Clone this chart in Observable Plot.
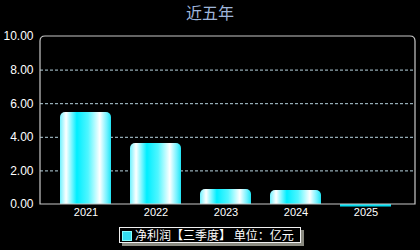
<!DOCTYPE html>
<html>
<head>
<meta charset="utf-8">
<script src="https://cdn.jsdelivr.net/npm/d3@7"></script>
<script src="https://cdn.jsdelivr.net/npm/@observablehq/plot@0.6"></script>
<style>
  html, body { margin: 0; padding: 0; background: #000; }
  #wrap { position: relative; width: 420px; height: 250px; background: #000; overflow: hidden; }
  #title { position: absolute; left: 0; top: 2px; width: 420px; text-align: center; color: #9fb6db;
           font: 16px "Noto Sans CJK SC", sans-serif; line-height: 20px; }
  #legend { position: absolute; left: 119px; top: 227px; width: 182px; height: 16px; box-sizing: border-box;
            border: 1px solid #f0f0f0; background: #000; box-shadow: 3px 3px 0 #8a8a80;
            color: #fff; font: 12px "Noto Sans CJK SC", sans-serif; line-height: 14px; white-space: nowrap; }
  #legend .sw { display: inline-block; width: 8px; height: 8px; background: #33ddf0; border: 1px solid #8ff;
                margin: 0 3px 0 2px; vertical-align: -1px; }
</style>
</head>
<body>
<div id="wrap">
  <div id="title">近五年</div>
  <div id="chart"></div>
  <div id="legend"><span class="sw"></span>净利润【三季度】 单位：亿元</div>
</div>
<script>
const years = ["2021", "2022", "2023", "2024", "2025"];
const profits = [5.48, 3.63, 0.89, 0.83, -0.15];
const yTicks = [0, 2, 4, 6, 8, 10];
const gridTicks = [2, 4, 6, 8];

const data = years.map((y, i) => ({year: y, v: profits[i]}));
const pos = data.filter(d => d.v > 0);
const neg = data.filter(d => d.v <= 0);

const frameMark = (index, scales, values, dim) => {
  const l = dim.marginLeft, t = dim.marginTop, r = dim.width - dim.marginRight, b = dim.height - dim.marginBottom, rr = 5;
  const g = d3.create("svg:path")
    .attr("d", `M${l},${b}V${t + rr}Q${l},${t} ${l + rr},${t}H${r - rr}Q${r},${t} ${r},${t + rr}V${b}Z`)
    .attr("fill", "none").attr("stroke", "#c8c8c8").attr("stroke-width", 1.2);
  return g.node();
};

const chart = Plot.plot({
  width: 420,
  height: 250,
  marginLeft: 40,
  marginRight: 5,
  marginTop: 36,
  marginBottom: 46,
  style: {background: "#000", color: "#fff", fontFamily: "Liberation Sans, Arial, sans-serif"},
  x: {domain: years, paddingInner: 0.27, paddingOuter: 0.31, align: 0.45, label: null},
  y: {domain: [0, 10], label: null},
  marks: [
    Plot.ruleY(gridTicks, {stroke: "#b8d4e0", strokeDasharray: "3,2", strokeWidth: 1}),
    Plot.barY(pos, {x: "year", y: "v", fill: "url(#barGrad)", rx: 5}),
    Plot.barY(pos, {x: "year", y1: 0, y2: d => d.v / 2, fill: "url(#barGrad)"}),
    Plot.barY(neg, {x: "year", y: "v", fill: "#00dcf0", clip: false}),
    frameMark,
    Plot.axisY(yTicks, {tickFormat: d3.format(".2f"), tickSize: 0, tickPadding: 7, fontSize: 12, fill: "#fff", label: null}),
    Plot.axisX(years, {tickSize: 0, tickPadding: 4, fontSize: 11, fill: "#fff", label: null})
  ]
});

chart.insertAdjacentHTML("afterbegin", `<defs>
  <linearGradient id="barGrad" x1="0" y1="0" x2="1" y2="0">
    <stop offset="0" stop-color="#70f2ff"/>
    <stop offset="0.12" stop-color="#ffffff"/>
    <stop offset="0.33" stop-color="#00eeff"/>
    <stop offset="0.55" stop-color="#50f6ff"/>
    <stop offset="0.78" stop-color="#ffffff"/>
    <stop offset="0.92" stop-color="#70f2ff"/>
    <stop offset="1" stop-color="#20e4f4"/>
  </linearGradient></defs>`);
document.getElementById("chart").appendChild(chart);
</script>
</body>
</html>
